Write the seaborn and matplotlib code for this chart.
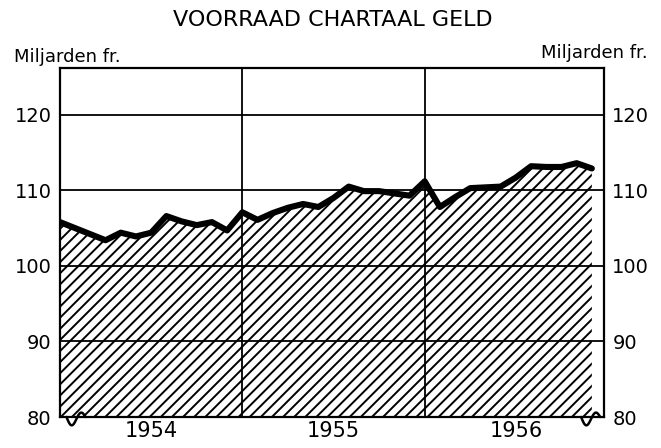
"""
Voorraad chartaal geld, 1954-1956 (monthly, in billions of francs).

Redraws the old printed chart: hatched area under a heavy line, year
dividers, values on both sides.
"""

import matplotlib

matplotlib.use("Agg")
import matplotlib.pyplot as plt
import numpy as np
import pandas as pd
import seaborn as sns

sns.set_theme(style="white")
plt.rcParams["font.family"] = ["DejaVu Sans"]
plt.rcParams["text.color"] = "black"
plt.rcParams["xtick.color"] = "black"
plt.rcParams["ytick.color"] = "black"
plt.rcParams["hatch.linewidth"] = 1.4

# monthly values, Jan 1954 .. Dec 1956
years = ["1954", "1955", "1956"]
month_index = list(range(36))
stock = [
    105.8, 105.0, 104.2, 103.4, 104.4, 103.9, 104.4, 106.6, 105.9, 105.4, 105.8, 104.7,
    107.1, 106.1, 107.0, 107.7, 108.2, 107.8, 109.0, 110.5, 109.9, 109.9, 109.6, 109.3,
    111.2, 107.8, 109.1, 110.3, 110.4, 110.5, 111.7, 113.2, 113.1, 113.1, 113.6, 112.9,
]
y_ticks = [80, 90, 100, 110, 120]

df = pd.DataFrame({"month": month_index, "stock": stock})

fig = plt.figure(figsize=(6.61, 4.48), dpi=100)
ax = fig.add_axes([60 / 661, 31 / 448, 544 / 661, 349 / 448])

ax.fill_between(df["month"], 80, df["stock"], facecolor="white",
                edgecolor="black", hatch="///", linewidth=0)
sns.lineplot(data=df, x="month", y="stock", color="black", linewidth=4.4,
             solid_joinstyle="round", ax=ax)

ax.set_xlim(0, 35.8)
ax.set_ylim(80, 126.2)
ax.set_yticks(y_ticks)
ax.set_yticklabels([str(t) for t in y_ticks], fontsize=14)
ax.tick_params(axis="y", length=0, labelright=True, pad=6)
ax.set_xticks([6, 18, 30])
ax.set_xticklabels(years, fontsize=15)
ax.tick_params(axis="x", length=0, pad=3)
ax.set_xlabel("")
ax.set_ylabel("")

for t in y_ticks[1:]:
    ax.axhline(t, color="black", linewidth=1.3, zorder=1)
for b in [12, 24]:
    ax.axvline(b, color="black", linewidth=1.3, zorder=1)

for side in ["left", "right", "top", "bottom"]:
    ax.spines[side].set_color("black")
    ax.spines[side].set_linewidth(1.6)

# scale-break wiggles on the baseline
for x0 in [0.012, 0.958]:
    s = np.linspace(0, 1, 40)
    ax.plot(x0 + 0.035 * s, -0.018 * np.sin(2 * np.pi * s) - 0.008 * np.sin(np.pi * s),
            transform=ax.transAxes, color="black", linewidth=1.8, clip_on=False)

fig.text(333 / 661, 1 - 20 / 448, "VOORRAAD CHARTAAL GELD", ha="center", va="center",
         fontsize=16)
fig.text(14 / 661, 1 - 57 / 448, "Miljarden fr.", ha="left", va="center", fontsize=13)
fig.text(648 / 661, 1 - 53 / 448, "Miljarden fr.", ha="right", va="center", fontsize=13)

fig.savefig("out.png", dpi=100)
plt.close(fig)
